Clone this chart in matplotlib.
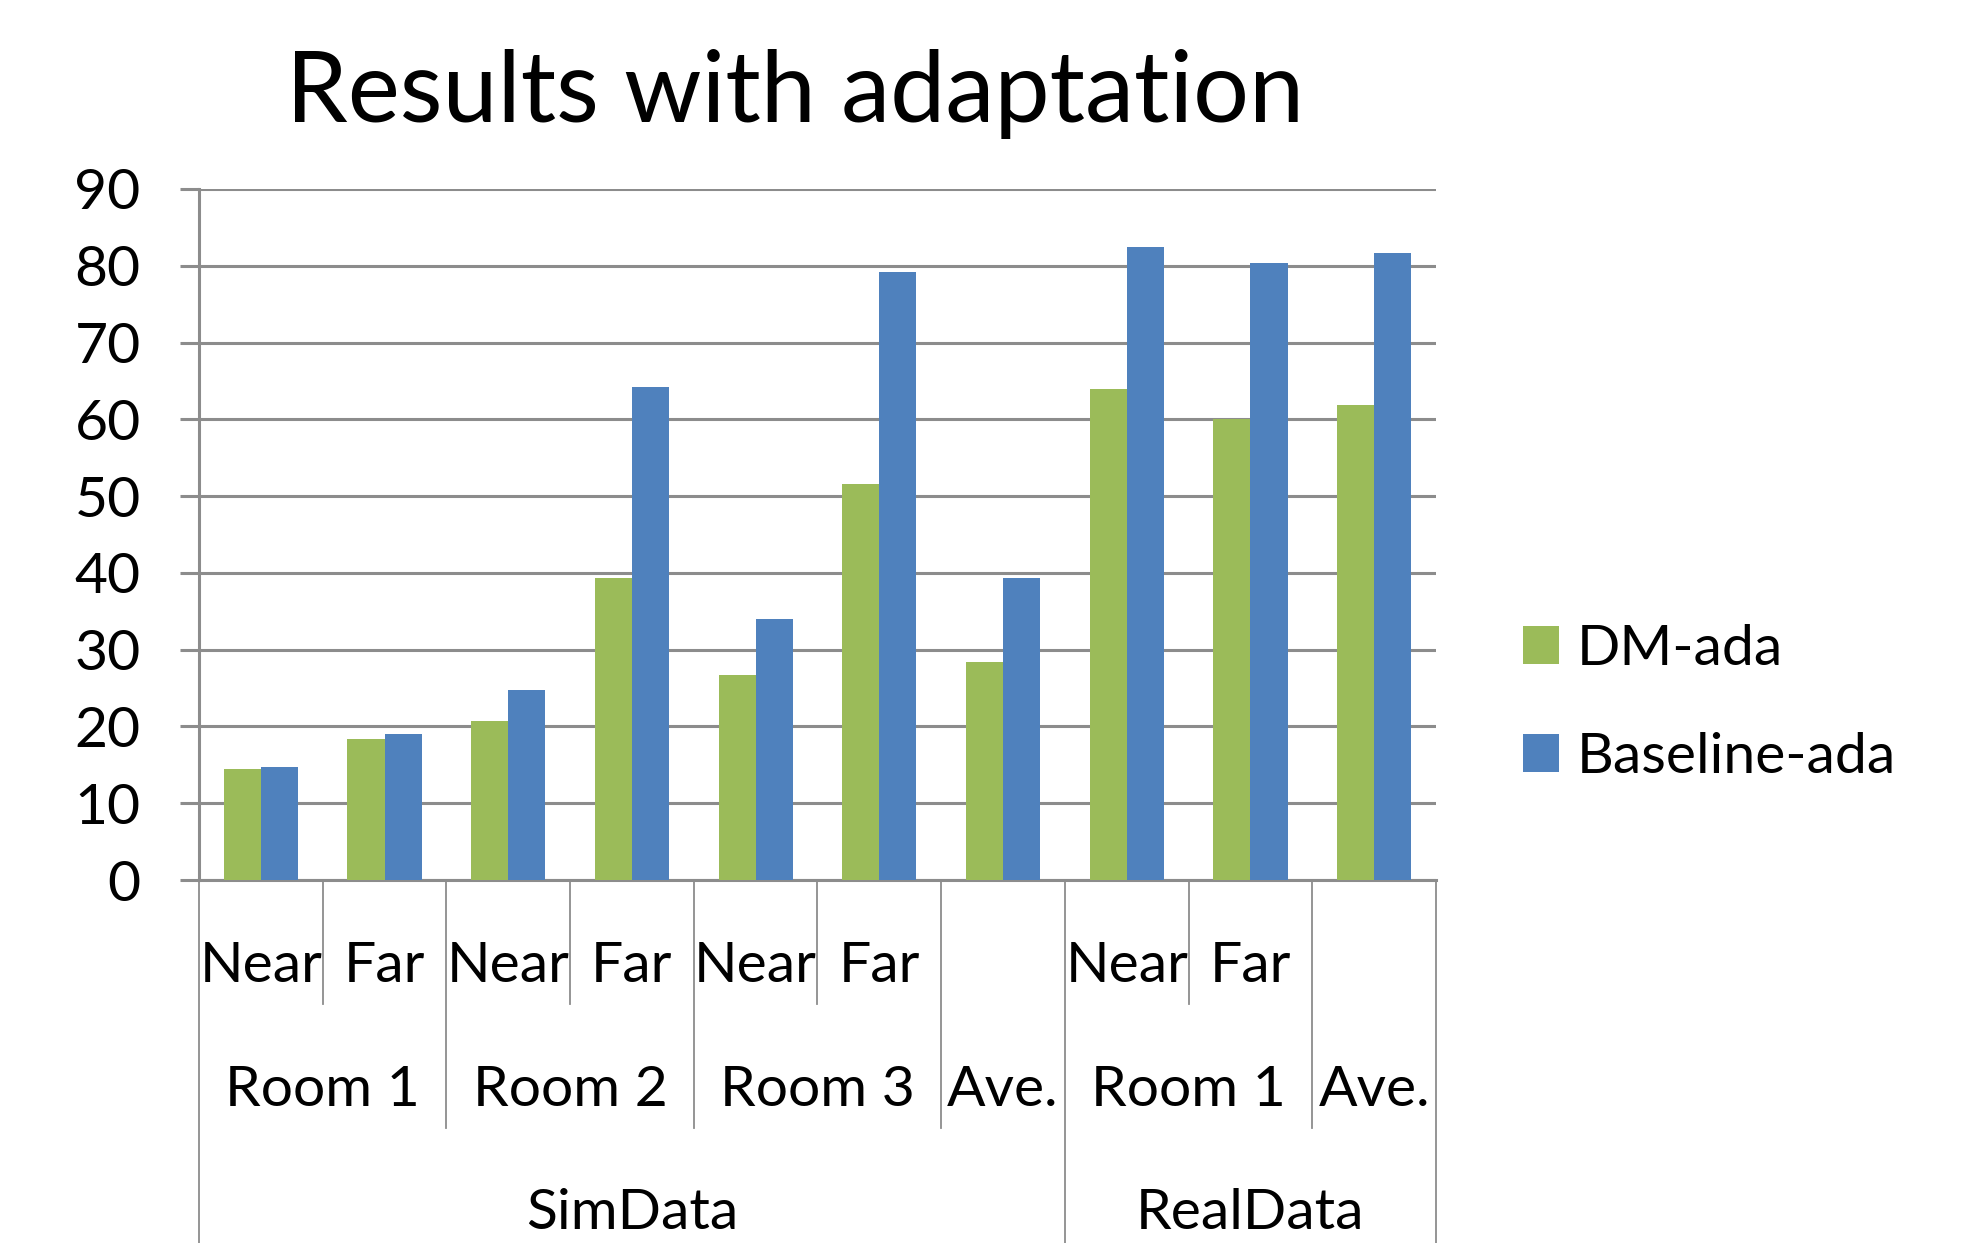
import numpy as np
import matplotlib.pyplot as plt
import matplotlib.transforms as mtransforms

# values
categorias = ['Near', 'Far', 'Near', 'Far', 'Near', 'Far', '', 'Near', 'Far', '']
salas = ['Room 1', 'Room 2', 'Room 3', 'Ave.', 'Room 1', 'Ave.']
sala_pos = [0.5, 2.5, 4.5, 6, 7.5, 9]
grupos = ['SimData', 'RealData']
grupo_pos = [3, 8]
dm_ada = [14.4, 18.4, 20.7, 39.3, 26.7, 51.6, 28.4, 63.9, 60.0, 61.9]
baseline_ada = [14.7, 19.0, 24.7, 64.2, 34.0, 79.2, 39.3, 82.5, 80.3, 81.6]

verde = '#9BBB59'
azul = '#4F81BD'
cinza = '#8C8C8C'
fonte = 'Lato'
tam = 41

plt.rcParams['font.family'] = fonte

fig = plt.figure(figsize=(19.72, 12.43), dpi=100)
ax = fig.add_axes([0.1009, 0.292, 0.6273, 0.556])

x = np.arange(len(dm_ada))
largura = 0.30
ax.bar(x - largura / 2, dm_ada, largura, color=verde, label='DM-ada', zorder=3)
ax.bar(x + largura / 2, baseline_ada, largura, color=azul, label='Baseline-ada', zorder=3)

ax.set_xlim(-0.5, 9.5)
ax.set_ylim(0, 90)
ax.set_yticks(range(0, 91, 10))
ax.yaxis.grid(True, color=cinza, linewidth=2.2, zorder=0)
ax.set_axisbelow(True)
ax.tick_params(axis='y', length=14, width=2.2, color=cinza, labelsize=tam, pad=28)
ax.set_xticks([])
for s in ['top', 'right']:
    ax.spines[s].set_visible(False)
ax.spines['left'].set_color(cinza)
ax.spines['left'].set_linewidth(2.2)
ax.spines['bottom'].set_color(cinza)
ax.spines['bottom'].set_linewidth(2.2)

# eixo x com tres niveis
trans = mtransforms.blended_transform_factory(ax.transData, ax.transAxes)
for i, c in enumerate(categorias):
    ax.text(i, -0.125, c, transform=trans, ha='center', va='center', fontsize=tam)
for p, s in zip(sala_pos, salas):
    ax.text(p, -0.305, s, transform=trans, ha='center', va='center', fontsize=tam)
for p, g in zip(grupo_pos, grupos):
    ax.text(p, -0.482, g, transform=trans, ha='center', va='center', fontsize=tam)

nivel1 = [0.5, 2.5, 4.5, 7.5]
nivel2 = [1.5, 3.5, 5.5, 8.5]
nivel3 = [-0.5, 6.5, 9.5]
for b in nivel1:
    ax.plot([b, b], [0, -0.179], transform=trans, color=cinza, lw=1.3, clip_on=False)
for b in nivel2:
    ax.plot([b, b], [0, -0.359], transform=trans, color=cinza, lw=1.3, clip_on=False)
for b in nivel3:
    ax.plot([b, b], [0, -0.6], transform=trans, color=cinza, lw=1.3, clip_on=False)

fig.text(0.403, 0.924, 'Results with adaptation', ha='center', va='center', fontsize=71)

fig.legend(loc='center left', bbox_to_anchor=(0.7723, 0.434), frameon=False,
           fontsize=tam, handlelength=0.64, handleheight=0.64, handletextpad=0.3,
           labelspacing=1.0, borderpad=0, borderaxespad=0)

plt.savefig('out.png', format='png')
